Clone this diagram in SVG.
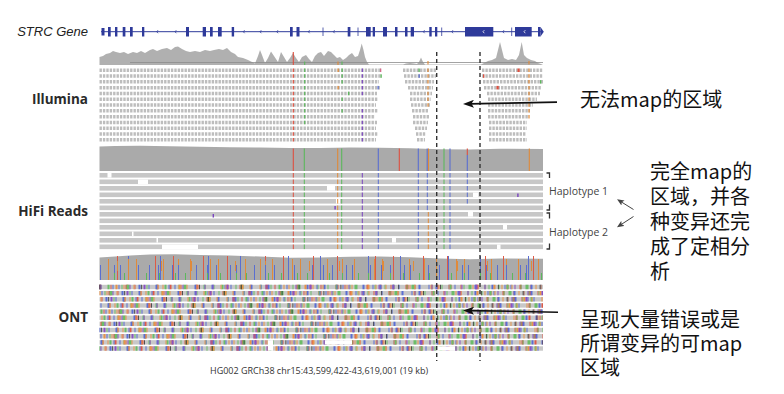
<svg xmlns="http://www.w3.org/2000/svg" width="784" height="394" viewBox="0 0 784 394">
<style>
.lab{font-family:"Open Sans","Liberation Sans",sans-serif;font-weight:700;font-size:13.5px;fill:#2a2a2a}
.gl{font-family:"Liberation Sans",Arial,sans-serif;font-style:italic;font-size:13px;fill:#222}
.cjk{font-family:"Noto Sans CJK SC",sans-serif;font-size:20px;fill:#111}
.hap{font-family:"Open Sans","Liberation Sans",sans-serif;font-size:10.5px;fill:#444}
.foot{font-family:"Open Sans","Liberation Sans",sans-serif;font-size:9px;fill:#333}
.il{stroke:#bdbdbd;stroke-width:3.5;stroke-dasharray:2.4 1}
.hr{fill:#c7c7c7}
.cov{fill:#b0b0b0}
.vi{stroke-width:1.2;stroke-dasharray:3.5 2.3}
.vh{stroke-width:1;stroke-dasharray:4.6 1.9}
.vc{stroke-width:1.1}
.dl{stroke:#333;stroke-width:1.4;stroke-dasharray:4 3}
.r{stroke:#dd5040}.g{stroke:#5cb85c}.b{stroke:#5a6ed0}.o{stroke:#e08a3a}.p{stroke:#7a44c0}
.fr{fill:#dd5040}.fg{fill:#5cb85c}.fb{fill:#5a6ed0}.fo{fill:#e08a3a}.fp{fill:#7a44c0}
.ex{fill:#2e3a9a}
.chev{fill:none;stroke:#2e3a9a;stroke-width:0.8}
.brk{fill:none;stroke:#333;stroke-width:1.3}
</style>
<defs>
<marker id="ah" viewBox="0 0 11 8" refX="3" refY="4" markerWidth="11" markerHeight="8" markerUnits="userSpaceOnUse" orient="auto"><path d="M0,0 L11,4 L0,8 L2.5,4 z" fill="#111"/></marker>
<marker id="as" viewBox="0 0 7 6" refX="2" refY="3" markerWidth="7" markerHeight="6" markerUnits="userSpaceOnUse" orient="auto"><path d="M0,0 L7,3 L0,6 L1.5,3 z" fill="#444"/></marker>
<g id="ontrow">
<rect x="99.5" y="-2.2" width="443.5" height="4.4" fill="#c8c8c8"/>
<line x1="99.5" y1="0" x2="543" y2="0" stroke-width="4.4" stroke="#dc5a4a" stroke-dasharray="2 9 1 14 3 6 1 21 2 11"/>
<line x1="99.5" y1="0" x2="543" y2="0" stroke-width="4.4" stroke="#6cbd68" stroke-dasharray="1 7 2 12 1 4 3 17 1 9"/>
<line x1="99.5" y1="0" x2="543" y2="0" stroke-width="4.4" stroke="#5b6ed4" stroke-dasharray="2 11 1 5 1 19 2 8 1 6"/>
<line x1="99.5" y1="0" x2="543" y2="0" stroke-width="4.4" stroke="#e8934a" stroke-dasharray="1 15 2 6 1 9 1 23 1 4"/>
<line x1="99.5" y1="0" x2="543" y2="0" stroke-width="4.4" stroke="#8a52c4" stroke-dasharray="1 29 1 13 2 37"/>
<line x1="99.5" y1="0" x2="543" y2="0" stroke-width="4.4" stroke="#333" stroke-dasharray="0.8 41 0.8 57"/>
</g>
</defs>
<rect width="784" height="394" fill="#fff"/>

<g id="labels">
<text class="gl" x="88" y="35.7" text-anchor="end">STRC Gene</text>
<text class="lab" x="88" y="104.3" text-anchor="end">Illumina</text>
<text class="lab" x="88" y="216" text-anchor="end">HiFi Reads</text>
<text class="lab" x="88" y="321.7" text-anchor="end">ONT</text>
</g>

<g id="gene-track">
<line x1="101" y1="31.7" x2="541" y2="31.7" stroke="#2e3a9a" stroke-width="1"/>
<g class="ex">
<rect x="101.5" y="28" width="3" height="7.5"/>
<rect x="108" y="27" width="2.7" height="9.5"/>
<rect x="115" y="27" width="2.4" height="9.5"/>
<rect x="122.7" y="27" width="2.7" height="9.5"/>
<rect x="130" y="27" width="2.7" height="9.5"/>
<rect x="142" y="27" width="2.3" height="9.5"/>
<rect x="186" y="27" width="3" height="9.5"/>
<rect x="202.7" y="27" width="3.3" height="9.5"/>
<rect x="210" y="27" width="2.7" height="9.5"/>
<rect x="218" y="27" width="3.7" height="9.5"/>
<rect x="231.7" y="27" width="2.4" height="9.5"/>
<rect x="290" y="27" width="2.7" height="9.5"/>
<rect x="296.5" y="27" width="3" height="9.5"/>
<rect x="347.7" y="27" width="2.7" height="9.5"/>
<rect x="366" y="27" width="4.7" height="9.5"/>
<rect x="372.7" y="27" width="2.3" height="9.5"/>
<rect x="383" y="27" width="4" height="9.5"/>
<rect x="395" y="27" width="2.5" height="9.5"/>
<rect x="405" y="27" width="2.5" height="9.5"/>
<rect x="410.7" y="27" width="3.3" height="9.5"/>
<rect x="429.3" y="27" width="2.4" height="9.5"/>
<rect x="435" y="27" width="2.3" height="9.5"/>
<rect x="465" y="27" width="28.3" height="9.5"/>
<rect x="515" y="27" width="16.7" height="9.5"/>
<rect x="538" y="27" width="2.5" height="9.5"/>
<path d="M540.5,27 L543.8,31.7 L540.5,36.5 z"/>
</g>
<g stroke="#2e3a9a" stroke-width="0.8">
<line x1="323" y1="27.5" x2="323" y2="36"/>
<line x1="358" y1="27.5" x2="358" y2="36"/>
<line x1="441.7" y1="27.5" x2="441.7" y2="36"/>
<line x1="511.7" y1="27.5" x2="511.7" y2="36"/>
</g>
<path class="chev" d="M158,30.2 L156.7,31.7 L158,33.2 M176.3,30.2 L175,31.7 L176.3,33.2 M244.6,30.2 L243.3,31.7 L244.6,33.2 M261.3,30.2 L260,31.7 L261.3,33.2 M278,30.2 L276.7,31.7 L278,33.2 M309.6,30.2 L308.3,31.7 L309.6,33.2 M334.6,30.2 L333.3,31.7 L334.6,33.2 M424.6,30.2 L423.3,31.7 L424.6,33.2 M453,30.2 L451.7,31.7 L453,33.2 M504,30.2 L502.7,31.7 L504,33.2"/>
<path d="M484.3,30.2 L483,31.7 L484.3,33.2 M525.3,30.2 L524,31.7 L525.3,33.2" fill="none" stroke="#fff" stroke-width="0.8"/>
</g>

<g id="illumina">
<polygon class="cov" points="99.5,65 99.5,57 103,56 106,54 110,53 113,51 116,52 120,53 124,52 128,54 133,52 137,53 141,51 145,53 150,50 153,49 157,51 162,49 167,48 171,50 175,47 178,46.5 182,49 186,51 190,52 195,51 200,52 205,50 210,51 214,50 219,49 223,50 227,48 231,52 235,54 238,57 243,58 248,60 252,62 255,63.5 258,56 260,50 262,55 265,63 268,58 271,51.5 274,56 278,62 281,52 284,57 287,62 290,58 293,53 296,58 299,62 302,57 306,55 309,59 312,62 315,56 318,53 321,52 324,56 328,51 331,52 334,55 337,58 340,57 343,60 346,58 349,55 352,53 355,57 358,56 360,50 361.7,43.5 363.5,50 365,57 367,62 369,64.5 403,64.5 406,63.5 410,63 414,63.5 417,64 419,62 421,57.5 423,62 425,64.5 481,64.5 484,63 488,61 492,60 496,58 498,50 500,42 502,50 504,58 508,60 512,59 516,60 519,55 521.7,42 524,55 527,58 531,60 535,61 538,63 541,64 543,65"/>
<line x1="130" y1="62.5" x2="543" y2="62.5" stroke="#8c8c8c" stroke-width="0.8"/>
<g class="vc">
<line class="r" x1="293.3" y1="52" x2="293.3" y2="65"/>
<line class="g" x1="304.7" y1="61.5" x2="304.7" y2="65"/>
<line class="o" x1="338" y1="61.5" x2="338" y2="65"/>
<line class="g" x1="342" y1="61.5" x2="342" y2="65"/>
<line class="o" x1="428" y1="61" x2="428" y2="64.5"/>
<line class="o" x1="529" y1="61" x2="529" y2="64.5"/>
</g>
<g class="il">
<line x1="99.5" y1="70.25" x2="381" y2="70.25"/><line x1="403" y1="70.25" x2="436" y2="70.25"/><line x1="482" y1="70.25" x2="543" y2="70.25"/>
<line x1="99.5" y1="76.05" x2="381" y2="76.05"/><line x1="404" y1="76.05" x2="436" y2="76.05"/><line x1="482" y1="76.05" x2="543" y2="76.05"/>
<line x1="99.5" y1="81.85" x2="379" y2="81.85"/><line x1="405" y1="81.85" x2="434" y2="81.85"/><line x1="483" y1="81.85" x2="543" y2="81.85"/>
<line x1="99.5" y1="87.65" x2="380" y2="87.65"/><line x1="408" y1="87.65" x2="433" y2="87.65"/><line x1="484" y1="87.65" x2="541" y2="87.65"/>
<line x1="99.5" y1="93.45" x2="377" y2="93.45"/><line x1="410" y1="93.45" x2="432" y2="93.45"/><line x1="487" y1="93.45" x2="540" y2="93.45"/>
<line x1="99.5" y1="99.25" x2="378" y2="99.25"/><line x1="410" y1="99.25" x2="431" y2="99.25"/><line x1="488" y1="99.25" x2="537" y2="99.25"/>
<line x1="99.5" y1="105.05" x2="376" y2="105.05"/><line x1="411" y1="105.05" x2="430" y2="105.05"/><line x1="488" y1="105.05" x2="533" y2="105.05"/>
<line x1="99.5" y1="110.85" x2="378" y2="110.85"/><line x1="412" y1="110.85" x2="429" y2="110.85"/><line x1="488" y1="110.85" x2="530" y2="110.85"/>
<line x1="99.5" y1="116.65" x2="375" y2="116.65"/><line x1="413" y1="116.65" x2="429" y2="116.65"/><line x1="488" y1="116.65" x2="528" y2="116.65"/>
<line x1="99.5" y1="122.45" x2="377" y2="122.45"/><line x1="413" y1="122.45" x2="428" y2="122.45"/><line x1="489" y1="122.45" x2="527" y2="122.45"/>
<line x1="99.5" y1="128.25" x2="376" y2="128.25"/><line x1="415" y1="128.25" x2="427" y2="128.25"/><line x1="489" y1="128.25" x2="527" y2="128.25"/>
<line x1="99.5" y1="134.05" x2="378" y2="134.05"/><line x1="416" y1="134.05" x2="426" y2="134.05"/><line x1="489" y1="134.05" x2="526" y2="134.05"/>
<line x1="99.5" y1="139.85" x2="376" y2="139.85"/><line x1="417" y1="139.85" x2="425" y2="139.85"/><line x1="489" y1="139.85" x2="527" y2="139.85"/>
</g>
<g class="vi">
<line class="r" x1="293.3" y1="68.5" x2="293.3" y2="142"/>
<line class="g" x1="304.7" y1="68.5" x2="304.7" y2="124.7"/>
<line class="p" x1="362.3" y1="68.5" x2="362.3" y2="95.2"/>
<line class="p" x1="362.3" y1="109.1" x2="362.3" y2="142"/>
<line class="o" x1="428" y1="68.5" x2="428" y2="106.8"/>
<line class="o" x1="529" y1="68.5" x2="529" y2="118.4"/>
</g>
<rect class="fo" x="337.5" y="68.5" width="1.3" height="3.5"/>
<rect class="fo" x="337.5" y="85.9" width="1.3" height="3.5"/>
<rect class="fg" x="341.5" y="68.5" width="1.3" height="3.5"/>
<rect class="fg" x="341.5" y="74.3" width="1.3" height="3.5"/>
<rect class="fg" x="341.5" y="80.1" width="1.3" height="3.5"/>
<rect class="fg" x="341.5" y="97.5" width="1.3" height="3.5"/>
<rect class="fg" x="341.5" y="109.1" width="1.3" height="3.5"/>
<rect class="fg" x="348" y="91.7" width="1.3" height="3.5"/>
<rect class="fb" x="377.5" y="85.9" width="1.3" height="3.5"/>
<rect fill="#d46a8a" x="380" y="68.5" width="1.3" height="3.5"/>
<rect class="fg" x="380.5" y="74.3" width="1.3" height="3.5"/>
<rect class="fg" x="418.5" y="68.5" width="1.3" height="3.5"/>
<rect class="fb" x="418.5" y="74.3" width="1.3" height="3.5"/>
<rect class="fr" x="483" y="74.3" width="1.3" height="3.5"/>
<rect class="fr" x="517.5" y="68.5" width="2.2" height="3.5"/>
<rect class="fr" x="496.5" y="85.9" width="2.2" height="3.5"/>
<rect class="fg" x="540" y="80.1" width="1.3" height="3.5"/>
</g>

<g id="hifi">
<polygon fill="#aaaaaa" points="99.5,171 99.5,146.5 115,146 140,145.8 170,146.3 200,146.8 230,147.2 260,147.6 290,148 320,148 350,147.6 380,147.8 410,148.2 440,149.2 470,149.5 500,148.7 543,148.9 543,171"/>
<g class="vc">
<line class="r" x1="293.3" y1="148.5" x2="293.3" y2="171"/>
<line class="g" x1="304.3" y1="148.5" x2="304.3" y2="171"/>
<line class="o" x1="337.7" y1="148.5" x2="337.7" y2="171"/>
<line class="g" x1="341.7" y1="148.5" x2="341.7" y2="171"/>
<line class="b" x1="378.3" y1="148.5" x2="378.3" y2="171"/>
<line class="r" x1="399.3" y1="148.5" x2="399.3" y2="171"/>
<line class="b" x1="418.3" y1="148.5" x2="418.3" y2="171"/>
<line class="b" x1="427.2" y1="148.5" x2="427.2" y2="171"/>
<line class="o" x1="428.5" y1="148.5" x2="428.5" y2="171"/>
<line class="g" x1="444" y1="148.5" x2="444" y2="171"/>
<line class="b" x1="450" y1="148.5" x2="450" y2="171"/>
<line class="r" x1="467.3" y1="148.5" x2="467.3" y2="155"/>
<line class="b" x1="467.3" y1="155" x2="467.3" y2="171"/>
<line class="o" x1="529.3" y1="148.5" x2="529.3" y2="171"/>
</g>
<g class="hr">
<rect x="99.5" y="173" width="443.5" height="4.6"/>
<rect x="99.5" y="179.5" width="443.5" height="4.6"/>
<rect x="99.5" y="186" width="443.5" height="4.6"/>
<rect x="99.5" y="192.5" width="443.5" height="4.6"/>
<rect x="99.5" y="199" width="443.5" height="4.6"/>
<rect x="99.5" y="205.5" width="443.5" height="4.6"/>
<rect x="99.5" y="212" width="443.5" height="4.6"/>
<rect x="99.5" y="218.5" width="443.5" height="4.6"/>
<rect x="99.5" y="225" width="443.5" height="4.6"/>
<rect x="99.5" y="231.5" width="443.5" height="4.6"/>
<rect x="99.5" y="238" width="443.5" height="4.6"/>
<rect x="99.5" y="244.5" width="443.5" height="4.6"/>
</g>
<g fill="#fff">
<rect x="107.5" y="173" width="4" height="4.6"/>
<rect x="138" y="179.5" width="10" height="4.6"/>
<rect x="327" y="186" width="8" height="4.6"/>
<rect x="473" y="192.5" width="5.5" height="4.6"/>
<rect x="336" y="199" width="4" height="4.6"/>
<rect x="468" y="212" width="5" height="4.6"/>
<rect x="503" y="225" width="4" height="4.6"/>
<rect x="132" y="231.5" width="1.5" height="4.6"/>
<rect x="156.5" y="238" width="1.5" height="4.6"/>
<rect x="392" y="238" width="4" height="4.6"/>
<rect x="162" y="244.5" width="36" height="4.6"/>
<rect x="497" y="244.5" width="3.5" height="4.6"/>
</g>
<g class="vh">
<line class="r" x1="293.3" y1="173" x2="293.3" y2="249.1"/>
<line class="g" x1="304.3" y1="173" x2="304.3" y2="249.1"/>
<line class="o" x1="337.7" y1="173" x2="337.7" y2="249.1"/>
<line class="g" x1="341.7" y1="173" x2="341.7" y2="249.1"/>
<line class="p" x1="362.3" y1="173" x2="362.3" y2="249.1"/>
<line class="b" x1="378.3" y1="173" x2="378.3" y2="249.1"/>
<line class="b" x1="418.3" y1="173" x2="418.3" y2="249.1"/>
<line class="b" x1="427.3" y1="173" x2="427.3" y2="210.1"/>
<line class="o" x1="428.3" y1="212" x2="428.3" y2="249.1"/>
<line class="g" x1="444" y1="173" x2="444" y2="249.1"/>
<line class="b" x1="450" y1="173" x2="450" y2="249.1"/>
<line class="b" x1="467.3" y1="173" x2="467.3" y2="203.6"/>
</g>
<rect class="fp" x="212.6" y="214" width="1.4" height="3.5"/>
<rect class="fp" x="334.4" y="206" width="1.4" height="3.5"/>
<rect class="fp" x="517.2" y="193.5" width="1.4" height="3.5"/>
<path class="brk" d="M546.5,173 H549.5 V178 M549.5,204.5 V210 H546.5 M546.5,213 H549.5 V218.5 M549.5,243.5 V249 H546.5"/>
<text class="hap" x="549" y="195">Haplotype 1</text>
<text class="hap" x="549" y="236">Haplotype 2</text>
</g>

<g id="ont">
<polygon fill="#aaaaaa" points="99.5,280 99.5,257.5 115,256.5 130,255.5 150,254.5 175,254.3 200,255 230,255.6 260,256.5 290,257.8 320,257.5 350,256.8 380,256.6 410,257.3 440,258.4 470,259.2 500,258.6 543,258.7 543,280"/>
<line x1="100" y1="268" x2="543" y2="268" stroke="#dd5a45" stroke-width="24" stroke-dasharray="1 23 1 37 1 17 1 29" stroke-dashoffset="7"/>
<line x1="100" y1="268" x2="543" y2="268" stroke="#5a6ed0" stroke-width="24" stroke-dasharray="1 47 1 31" stroke-dashoffset="20"/>
<line x1="100" y1="269.5" x2="543" y2="269.5" stroke="#e08a3a" stroke-width="21" stroke-dasharray="1 11 1 19 1 7 1 26 1 14" stroke-dashoffset="4"/>
<line x1="100" y1="266" x2="543" y2="266" stroke="#e08a3a" stroke-width="10" stroke-dasharray="1 29 1 43" stroke-dashoffset="13"/>
<line x1="100" y1="272.5" x2="543" y2="272.5" stroke="#5a6ed0" stroke-width="15" stroke-dasharray="1 8 1 13 1 5 1 17 1 10" stroke-dashoffset="9"/>
<line x1="100" y1="276.5" x2="543" y2="276.5" stroke="#5cb85c" stroke-width="7" stroke-dasharray="1 15 1 9 1 21 1 12" stroke-dashoffset="2"/>
<use href="#ontrow" y="287" stroke-dashoffset="0"/>
<use href="#ontrow" y="293.15" stroke-dashoffset="17"/>
<use href="#ontrow" y="299.3" stroke-dashoffset="33"/>
<use href="#ontrow" y="305.45" stroke-dashoffset="48"/>
<use href="#ontrow" y="311.6" stroke-dashoffset="7"/>
<use href="#ontrow" y="317.75" stroke-dashoffset="61"/>
<use href="#ontrow" y="323.9" stroke-dashoffset="25"/>
<use href="#ontrow" y="330.05" stroke-dashoffset="40"/>
<use href="#ontrow" y="336.2" stroke-dashoffset="12"/>
<use href="#ontrow" y="342.35" stroke-dashoffset="55"/>
<use href="#ontrow" y="348.5" stroke-dashoffset="29"/>
<g fill="#fff">
<rect x="325" y="340.15" width="27" height="4.4"/>
<rect x="268" y="340.15" width="5" height="10.6"/>
<rect x="437" y="346.3" width="18" height="4.4"/>
</g>
</g>

<g id="guides">
<line class="dl" x1="436.7" y1="52" x2="436.7" y2="361"/>
<line class="dl" x1="480" y1="52" x2="480" y2="361"/>
</g>

<g id="connectors">
<path d="M557,102.2 C530,102.6 500,103.3 471,103.8" fill="none" stroke="#111" stroke-width="1.8" marker-end="url(#ah)"/>
<path d="M558,312.2 L471,310.6" fill="none" stroke="#111" stroke-width="1.6" marker-end="url(#ah)"/>
<path d="M633.5,209.5 L621.3,201.9" fill="none" stroke="#444" stroke-width="1" marker-end="url(#as)"/>
<path d="M633.5,216.5 L621.2,224.5" fill="none" stroke="#444" stroke-width="1" marker-end="url(#as)"/>
</g>

<g id="annotations">
<text class="cjk" x="580" y="106.5">无法map的区域</text>
<text class="cjk" x="650" y="179"><tspan x="650" y="179">完全map的</tspan><tspan x="650" y="204">区域，并各</tspan><tspan x="650" y="229">种变异还完</tspan><tspan x="650" y="254">成了定相分</tspan><tspan x="650" y="279">析</tspan></text>
<text class="cjk" x="580" y="327"><tspan x="580" y="327">呈现大量错误或是</tspan><tspan x="580" y="351">所谓变异的可map</tspan><tspan x="580" y="375">区域</tspan></text>
<text class="foot" x="210" y="373.5">HG002 GRCh38 chr15:43,599,422-43,619,001 (19 kb)</text>
</g>
</svg>
